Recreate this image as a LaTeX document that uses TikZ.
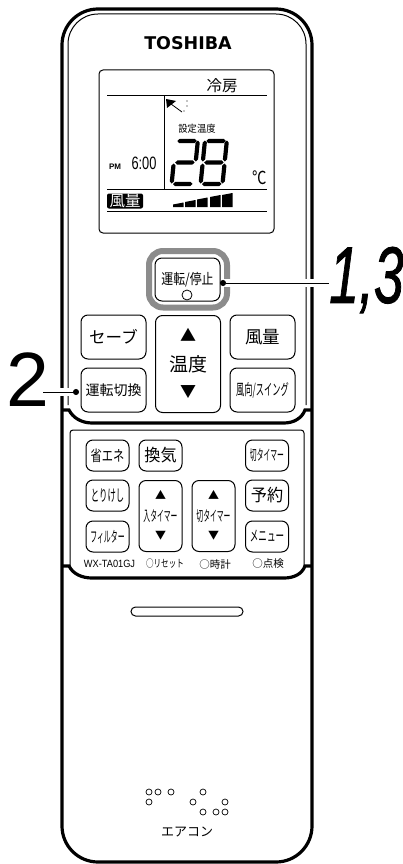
\documentclass[tikz,border=0pt]{standalone}
\usepackage{fontspec}
\setmainfont{Liberation Sans}
\newfontfamily\jp{Noto Sans CJK JP}
\newfontfamily\logofont{DejaVu Sans}
\newfontfamily\numfont[ItalicFeatures={FakeBold=1.3}]{Liberation Sans}
\usetikzlibrary{arrows.meta}
\newcommand{\tx}[3]{\fontsize{#1}{#1}\jp\scalebox{#2}[1]{#3}}
\newcommand{\segH}[3]{\fill (#1,#2) -- ++(2.1,-2.1) -- ++({#3-4.2},0) -- ++(2.1,2.1) -- ++(-2.1,2.1) -- ++({4.2-#3},0) -- cycle;}
\newcommand{\segV}[3]{\fill (#1,#2) -- ++(2.1,2.1) -- ++(0,{#3-4.2}) -- ++(-2.1,2.1) -- ++(-2.1,-2.1) -- ++(0,{4.2-#3}) -- cycle;}
\begin{document}
\begin{tikzpicture}[x=1pt,y=-1pt]
   \useasboundingbox (0,0) rectangle (403,864);
   \tikzstyle{btn}=[draw=black, line width=1pt, rounded corners=7pt, inner sep=0pt]
   \tikzstyle{big}=[btn, minimum width=65pt, minimum height=44pt]
   \tikzstyle{small}=[btn, minimum width=43pt, minimum height=31pt]
   \tikzstyle{tall}=[btn, minimum width=43pt, minimum height=71pt]
   \tikzstyle{txt}=[inner sep=0pt]
   \tikzstyle{leader}=[{Circle[length=6pt]}-, line width=1pt]
   % body
   \draw[line width=3.2pt, rounded corners=36pt] (62,9) rectangle (312,862);
   \draw[line width=1pt, rounded corners=30pt] (68,405) -- (68,14) -- (306,14) -- (306,405);
   \draw[line width=3.2pt] (62,410) -- (69,410) .. controls (73,418) and (82,423) .. (92,423) -- (284,423) .. controls (294,423) and (302,418) .. (305,410) -- (312,410);
   \draw[line width=3.2pt] (62,566) -- (69,566) .. controls (73,574) and (82,578) .. (92,578) -- (284,578) .. controls (294,578) and (302,574) .. (305,566) -- (312,566);
   \draw[line width=1pt, rounded corners=3pt] (70,566) -- (70,430) -- (304,430) -- (304,566);
   % display
   \node[txt, font=\logofont\bfseries\fontsize{17.5}{17.5}\selectfont] (logo) at (188,43) {TOSHIBA};
   \draw[line width=1pt, rounded corners=4pt] (99,70) rectangle (274,233);
   \draw[line width=1pt] (107,96) -- (267,96);
   \draw[line width=1pt] (107,189) -- (267,189);
   \draw[line width=1pt] (107,211) -- (267,211);
   \draw[line width=1pt] (164,96) -- (164,189);
   \node[txt] (mode) at (222,86) {\tx{15.5}{1}{冷房}};
   \node[txt] (settemp) at (197,129) {\tx{10}{.93}{設定温度}};
   \node[txt] (pm) at (115,167) {\fontsize{8}{8}\selectfont\bfseries PM};
   \node[txt] (clock) at (144,163) {\fontsize{16}{16}\selectfont\scalebox{.8}[1.12]{6:00}};
   \node[txt] (unit) at (260,178) {\tx{18}{.8}{℃}};
   \node[txt, fill=black, text=white, rounded corners=2pt, minimum width=36pt, minimum height=15pt] (fanbox) at (125,201) {\tx{15.5}{1}{風量}};
   % wind direction mark
   \fill (166,99) -- (176,101) -- (167,108) -- cycle;
   \draw[line width=.8pt] (171,104) -- (182,112);
   \foreach \i/\j in {187/101,187/106,184/111} {
       \fill (\i,\j) circle (.7pt);
   }
   % 28
   \begin{scope}[shift={(174,139)}, xslant=.1]
   \segH{3.5}{2}{19.5}
   \segV{24}{1.5}{21}
   \segH{3.5}{23.5}{19.5}
   \segV{2.1}{24.5}{20}
   \segH{3.5}{45}{19.5}
   \end{scope}
   \begin{scope}[shift={(203,139)}, xslant=.1]
   \segH{3.5}{2}{19.5}
   \segV{24}{1.5}{21}
   \segV{2.1}{1.5}{21}
   \segH{3.5}{23.5}{19.5}
   \segV{24}{24.5}{20}
   \segV{2.1}{24.5}{20}
   \segH{3.5}{45}{19.5}
   \end{scope}
   % fan level
   \foreach \i/\j in {173/203.5,185/201,197/198.5,210/196,222/194} {
       \fill (\i,207) -- (\i,\j+1) -- (\i+10.5,\j-1) -- (\i+10.5,207) -- cycle;
   }
   % upper buttons
   \draw[line width=6pt, gray!90, rounded corners=14pt] (149,251) rectangle (227,307.5);
   \node[btn, minimum width=65pt, minimum height=43pt] (run) at (187.5,279.5) {};
   \node[txt] (runtext) at (187.5,280) {\tx{14.5}{.82}{運転/停止}};
   \draw[line width=.8pt] (187,295) circle (5pt);
   \node[big] (save) at (113.5,337) {\tx{16.5}{1}{セーブ}};
   \node[big] (change) at (113.5,390) {\tx{14}{1}{運転切換}};
   \node[btn, minimum width=65pt, minimum height=97pt] (temp) at (188,364) {};
   \node[txt] (tempup) at (188,335) {\tx{16}{1}{▲}};
   \node[txt] (templabel) at (188,364) {\tx{19}{1}{温度}};
   \node[txt] (tempdown) at (188,392) {\tx{16}{1}{▼}};
   \node[big] (fan) at (262.5,337) {\tx{17.5}{1}{風量}};
   \node[big] (swing) at (262.5,390) {\tx{15.5}{.53}{風向/スイング}};
   % lower buttons
   \foreach \i/\x/\y/\s/\f/\word in {eco/107.5/455.5/.75/15/{省エネ},vent/160.5/455.5/.95/17/{換気},offa/267/455.5/.47/14.5/{切タイマー},clean/107.5/495.5/.52/16/{とりけし},filter/107.5/536.5/.46/15/{フィルター},timer/267/495.5/.95/17/{予約},menu/267/536.5/.57/15/{メニュー}} {
       \node[small] (\i) at (\x,\y) {\tx{\f}{\s}{\word}};
   }
   \foreach \i/\x/\word in {on/160.5/{入タイマー},off/213.5/{切タイマー}} {
       \node[tall] (\i) at (\x,516) {};
       \node[txt] (\i up) at (\x,495) {\tx{11}{1}{▲}};
       \node[txt] (\i text) at (\x,516) {\tx{14.5}{.47}{\word}};
       \node[txt] (\i down) at (\x,536) {\tx{11}{1}{▼}};
   }
   \node[txt] (model) at (109.5,564) {\fontsize{10.5}{10.5}\selectfont\scalebox{.88}[1]{WX-TA01GJ}};
   \foreach \i/\x/\word/\s in {reset/165/{○リセット}/.72,clock/215/{○時計}/1,check/268/{○点検}/1} {
       \node[txt] (\i) at (\x,564) {\tx{10.5}{\s}{\word}};
   }
   % lower lid
   \node[draw, line width=1pt, rounded corners=4.5pt, minimum width=112pt, minimum height=9pt, inner sep=0pt] (slot) at (187,611.5) {};
   \foreach \i/\j in {149/792,158/792,171/792,149/802,203/792,193/802,203/812,216/812,225/812,225/802} {
       \draw[line width=.7pt] (\i,\j) circle (3pt);
   }
   \node[txt] (name) at (187,832) {\tx{13}{1}{エアコン}};
   % leaders
   \node[txt, anchor=west] (label13) at (329,280) {\fontsize{80}{80}\numfont\scalebox{.67}[1]{\itshape 1,3}};
   \node[txt, anchor=west] (label2) at (6,380) {\fontsize{77}{77}\selectfont 2};
   \coordinate (tip13) at (220,283);
   \coordinate (tip2) at (79,392);
   \coordinate (end2) at (43,392);
   \draw[white, line width=8pt] (223,283) -- (tip13 -| label13.west);
   \draw[white, line width=8pt] (tip2) -- (end2);
   \draw[leader] (tip13) -- (tip13 -| label13.west);
   \draw[leader] (tip2) -- (end2);
\end{tikzpicture}
\end{document}
